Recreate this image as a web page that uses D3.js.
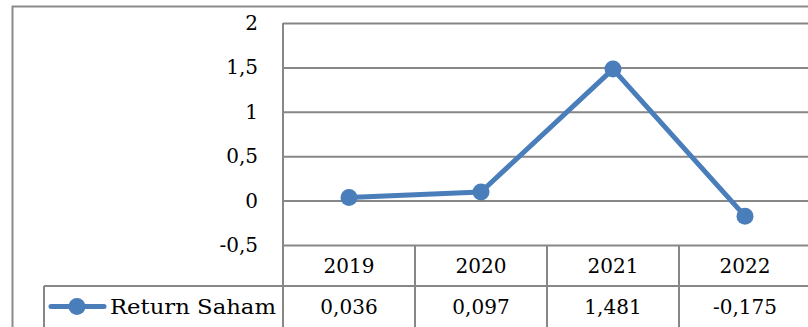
<!DOCTYPE html>
<html>
<head>
<meta charset="utf-8">
<script src="https://cdn.jsdelivr.net/npm/d3@7"></script>
<style>
  html, body { margin: 0; padding: 0; background: #fff; overflow: hidden; }
  svg { display: block; }
  text { font-family: "DejaVu Serif", serif; fill: #000; }
</style>
</head>
<body>
<div id="chart"></div>
<script>
// data
var years      = ['2019', '2020', '2021', '2022'];
var returns    = [0.036, 0.097, 1.481, -0.175];
var valueLabel = ['0,036', '0,097', '1,481', '-0,175'];
var yTicks     = [-0.5, 0, 0.5, 1, 1.5, 2];
var seriesName = 'Return Saham';

// config
var width     = 808
  , height    = 327
  , plotLeft  = 283
  , plotRight = 811
  , plotTop   = 23
  , plotBot   = 245
  , rowH      = 41
  , gridColor = '#878787'
  , lineColor = '#4a7ebb'
  , fontSize  = 20
;

var locale = d3.formatLocale({ decimal: ',', thousands: '.', grouping: [3], currency: ['', ''], minus: '-' });
var fmt = locale.format('');

var svg = d3.select('#chart').append('svg')
    .attr('width', width)
    .attr('height', height);

var x = d3.scaleBand()
    .domain(years)
    .range([plotLeft, plotRight]);

var y = d3.scaleLinear()
    .domain([-0.5, 2])
    .range([plotBot, plotTop]);

// outer chart border
svg.append('path')
    .attr('d', 'M12.5,' + (height + 5) + 'V6.5H' + (width + 5))
    .attr('fill', 'none')
    .attr('stroke', '#8a8a8a')
    .attr('stroke-width', 2);

// y axis with gridlines
var yAxis = d3.axisLeft(y)
    .tickValues(yTicks)
    .tickSize(-(plotRight - plotLeft))
    .tickPadding(25)
    .tickFormat(function (d) { return fmt(d); });

var gy = svg.append('g')
    .attr('transform', 'translate(' + plotLeft + ',0)')
    .call(yAxis)
    .attr('font-family', null);
gy.select('.domain').remove();
gy.selectAll('.tick line')
    .attr('stroke', gridColor)
    .attr('stroke-width', 2);
gy.selectAll('.tick text')
    .attr('font-size', fontSize)
    .attr('fill', '#000');

// plot left edge, runs down through the table
svg.append('line')
    .attr('x1', plotLeft).attr('x2', plotLeft)
    .attr('y1', plotTop).attr('y2', height + 5)
    .attr('stroke', gridColor).attr('stroke-width', 2);

// data table: column dividers and row lines
svg.selectAll('line.col')
    .data(years.slice(1))
    .enter().append('line')
    .attr('class', 'col')
    .attr('x1', function (d) { return x(d); })
    .attr('x2', function (d) { return x(d); })
    .attr('y1', plotBot)
    .attr('y2', height + 5)
    .attr('stroke', gridColor).attr('stroke-width', 2);

svg.append('line')
    .attr('x1', 44).attr('x2', plotRight)
    .attr('y1', plotBot + rowH).attr('y2', plotBot + rowH)
    .attr('stroke', gridColor).attr('stroke-width', 2);

svg.append('line')
    .attr('x1', 44).attr('x2', 44)
    .attr('y1', plotBot + rowH).attr('y2', height + 5)
    .attr('stroke', gridColor).attr('stroke-width', 2);

// year header row
svg.selectAll('text.year')
    .data(years)
    .enter().append('text')
    .attr('class', 'year')
    .attr('x', function (d) { return x(d) + x.bandwidth() / 2; })
    .attr('y', plotBot + rowH / 2)
    .attr('dy', '0.35em')
    .attr('text-anchor', 'middle')
    .attr('font-size', fontSize)
    .text(function (d) { return d; });

// values row
svg.selectAll('text.val')
    .data(valueLabel)
    .enter().append('text')
    .attr('class', 'val')
    .attr('x', function (d, i) { return x(years[i]) + x.bandwidth() / 2; })
    .attr('y', plotBot + rowH * 1.5)
    .attr('dy', '0.35em')
    .attr('text-anchor', 'middle')
    .attr('font-size', fontSize)
    .text(function (d) { return d; });

// legend key in table
var ly = plotBot + rowH * 1.5;
svg.append('line')
    .attr('x1', 51).attr('x2', 104)
    .attr('y1', ly).attr('y2', ly)
    .attr('stroke', lineColor).attr('stroke-width', 5)
    .attr('stroke-linecap', 'round');
svg.append('circle')
    .attr('cx', 77).attr('cy', ly).attr('r', 8.5)
    .attr('fill', lineColor);
svg.append('text')
    .attr('x', 110)
    .attr('y', ly)
    .attr('dy', '0.35em')
    .attr('font-size', fontSize)
    .attr('textLength', 166)
    .attr('lengthAdjust', 'spacingAndGlyphs')
    .text(seriesName);

// series line
var pts = years.map(function (d, i) { return [x(d) + x.bandwidth() / 2, y(returns[i])]; });

svg.append('path')
    .datum(pts)
    .attr('d', d3.line())
    .attr('fill', 'none')
    .attr('stroke', lineColor)
    .attr('stroke-width', 5)
    .attr('stroke-linejoin', 'round');

svg.selectAll('circle.pt')
    .data(pts)
    .enter().append('circle')
    .attr('class', 'pt')
    .attr('cx', function (d) { return d[0]; })
    .attr('cy', function (d) { return d[1]; })
    .attr('r', 8.5)
    .attr('fill', lineColor);
</script>
</body>
</html>
